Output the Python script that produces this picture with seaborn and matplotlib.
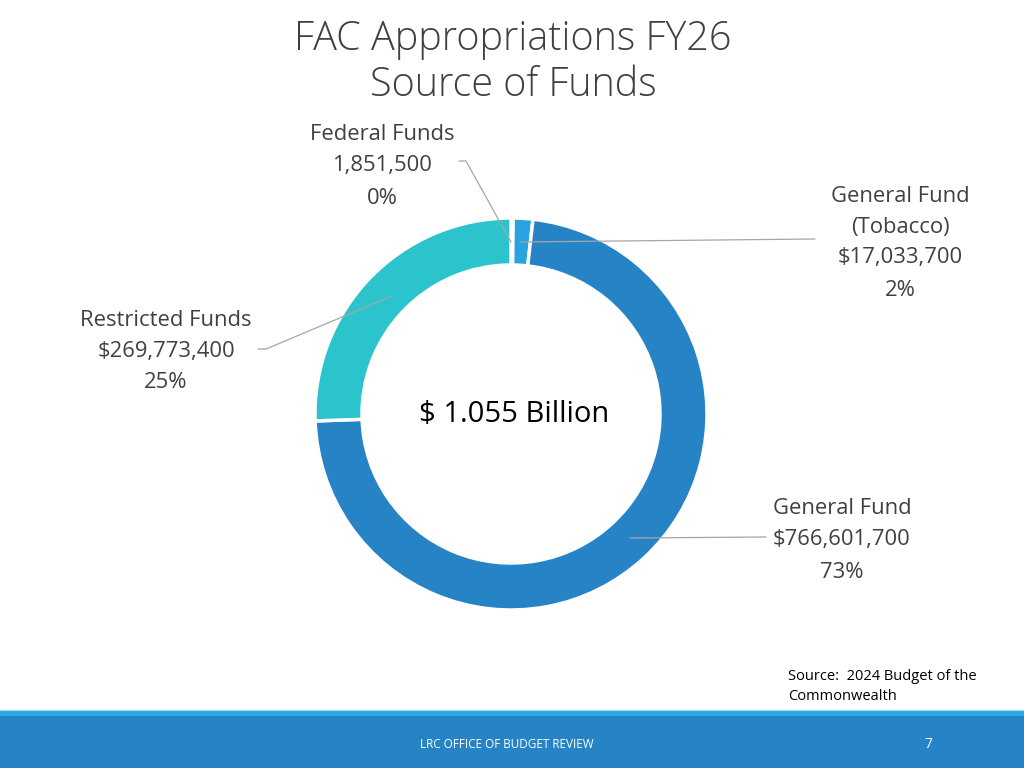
import matplotlib
matplotlib.use("Agg")
import matplotlib.pyplot as plt
import seaborn as sns
import numpy as np

sns.set_theme(style="white")
plt.rcParams['font.family'] = ['Open Sans', 'DejaVu Sans']

# Data (clockwise from top)
categories = ["Federal Funds", "General Fund (Tobacco)", "General Fund", "Restricted Funds"]
values = [1851500, 17033700, 766601700, 269773400]
value_labels = ["1,851,500", "$17,033,700", "$766,601,700", "$269,773,400"]
pct_labels = ["0%", "2%", "73%", "25%"]
colors = ["#6FD3E0", "#29A3E0", "#2683C6", "#2BC4CC"]

W, H = 1024, 768
fig = plt.figure(figsize=(10.24, 7.68), dpi=100)
ax = fig.add_axes([0, 0, 1, 1])

def Y(py):
    return H - py

cx, cy, R, w = 511, Y(414), 196, 47
wedges, _ = ax.pie(values, colors=colors, startangle=90, counterclock=False,
                   center=(cx, cy), radius=R, frame=True,
                   wedgeprops=dict(width=w, edgecolor="white", linewidth=2.5))
ax.set_xlim(0, W)
ax.set_ylim(0, H)
ax.set_aspect("equal")
ax.axis("off")

txt = "#404040"
# Title
ax.text(513, Y(40), "FAC Appropriations FY26", ha="center", va="center",
        fontsize=28.5, color=txt, fontweight="light")
ax.text(513, Y(85), "Source of Funds", ha="center", va="center",
        fontsize=28.5, color=txt, fontweight="light")

# Center text
ax.text(514, Y(415), "$ 1.055 Billion", ha="center", va="center", fontsize=21, color="black")

lab_fs = 15.8
lc = "#A6A6A6"
# Federal
ax.text(382, Y(135), categories[0], ha="center", va="center", fontsize=lab_fs, color=txt)
ax.text(382, Y(166), value_labels[0], ha="center", va="center", fontsize=lab_fs, color=txt)
ax.text(382, Y(198), pct_labels[0], ha="center", va="center", fontsize=lab_fs, color=txt)
ax.plot([459, 466, 511], [Y(161), Y(161), Y(242)], color=lc, lw=0.9)

# Tobacco
ax.text(900, Y(196), "General Fund", ha="center", va="center", fontsize=lab_fs, color=txt)
ax.text(900, Y(227), "(Tobacco)", ha="center", va="center", fontsize=lab_fs, color=txt)
ax.text(900, Y(258), value_labels[1], ha="center", va="center", fontsize=lab_fs, color=txt)
ax.text(900, Y(290), pct_labels[1], ha="center", va="center", fontsize=lab_fs, color=txt)
ax.plot([520, 815], [Y(242), Y(239)], color=lc, lw=0.9)

# Restricted
ax.text(166, Y(321), categories[3], ha="center", va="center", fontsize=lab_fs, color=txt)
ax.text(166, Y(352), value_labels[3], ha="center", va="center", fontsize=lab_fs, color=txt)
ax.text(166, Y(383), pct_labels[3], ha="center", va="center", fontsize=lab_fs, color=txt)
ax.plot([258, 266, 392], [Y(349), Y(349), Y(296)], color=lc, lw=0.9)

# General
ax.text(842, Y(509), categories[2], ha="center", va="center", fontsize=lab_fs, color=txt)
ax.text(842, Y(540), value_labels[2], ha="center", va="center", fontsize=lab_fs, color=txt)
ax.text(842, Y(572), pct_labels[2], ha="center", va="center", fontsize=lab_fs, color=txt)
ax.plot([630, 766], [Y(538), Y(537)], color=lc, lw=0.9)

# Source
ax.text(788, Y(677), "Source:  2024 Budget of the", ha="left", va="center", fontsize=10.5, color="black")
ax.text(788, Y(697), "Commonwealth", ha="left", va="center", fontsize=10.5, color="black")

# Footer bars
ax.add_patch(plt.Rectangle((0, 0), W, H - 716, color="#2683C6", lw=0))
ax.add_patch(plt.Rectangle((0, H - 716), W, 6, color="#2AABE2", lw=0))
ax.plot([0, W], [H - 710, H - 710], color="#9ED8F0", lw=0.8)
ax.text(507, Y(745), "LRC OFFICE OF BUDGET REVIEW", ha="center", va="center",
        fontsize=8.5, color="white")
ax.text(928, Y(745), "7", ha="center", va="center", fontsize=10, color="white")

fig.savefig("out.png", dpi=100, facecolor="white")
